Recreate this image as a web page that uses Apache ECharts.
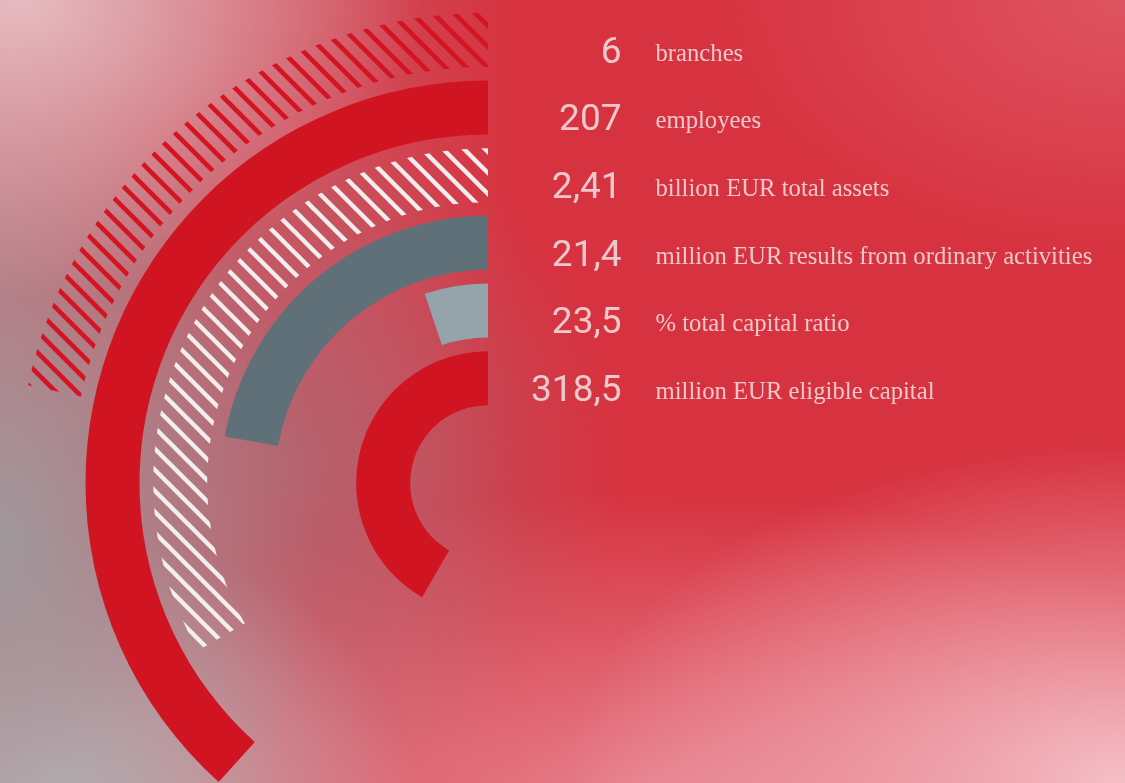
<!DOCTYPE html>
<html>
<head>
<meta charset="utf-8">
<script src="https://cdn.jsdelivr.net/npm/echarts@6/dist/echarts.min.js"></script>
<style>
html,body{margin:0;padding:0;}
body{width:1125px;height:783px;overflow:hidden;
background:
 radial-gradient(ellipse 400px 300px at 20px 0px, rgba(234,196,201,0.9), rgba(234,196,201,0) 100%),
 radial-gradient(ellipse 320px 460px at 0px 540px, rgba(160,152,156,1), rgba(160,152,156,0) 100%),
 radial-gradient(ellipse 350px 250px at 60px 783px, rgba(192,184,188,1), rgba(192,184,188,0) 100%),
 radial-gradient(ellipse 320px 330px at 300px 460px, rgba(176,102,114,0.8), rgba(176,102,114,0) 100%),
 radial-gradient(ellipse 560px 340px at 1125px 783px, rgba(245,192,200,1), rgba(245,192,200,0) 100%),
 radial-gradient(ellipse 650px 320px at 650px 810px, rgba(232,135,148,0.95), rgba(232,135,148,0) 100%),
 radial-gradient(ellipse 420px 260px at 1125px 0px, rgba(226,98,112,0.7), rgba(226,98,112,0) 100%),
 linear-gradient(90deg, #c46b76 0%, #cf4c59 30%, #d7323f 46%, #d7323f 100%);}
#chart{width:1125px;height:783px;}
</style>
</head>
<body>
<div id="chart"></div>
<script>
// ---- data ----
const categories = ['branches', 'employees', 'total assets', 'results from ordinary activities', 'total capital ratio', 'eligible capital'];
const valueLabels = ['6', '207', '2,41', '21,4', '23,5', '318,5'];
const unitLabels = ['branches', 'employees', 'billion EUR total assets', 'million EUR results from ordinary activities', '% total capital ratio', 'million EUR eligible capital'];
const arcDegrees = [78, 138, 120, 80, 18.5, 150];

// ---- styles ----
function hatch(color, period, width) {
  const s = Math.round(period * Math.SQRT2);
  const c = document.createElement('canvas');
  c.width = s; c.height = s;
  const g = c.getContext('2d');
  g.strokeStyle = color; g.lineWidth = width;
  g.beginPath();
  for (let k = -1; k <= 1; k++) {
    g.moveTo(k * s - width, -width);
    g.lineTo(k * s + s + width, s + width);
  }
  g.stroke();
  return { image: c, repeat: 'repeat' };
}
const fills = [
  hatch('#d41422', 15, 4.6),
  '#d01422',
  hatch('#f3eeee', 14.6, 4.4),
  '#607079',
  '#95a3ab',
  '#d01422'
];

const chart = echarts.init(document.getElementById('chart'), null, { renderer: 'canvas' });
chart.setOption({
  backgroundColor: 'transparent',
  animation: false,
  polar: { center: [488, 483], radius: [71, 477] },
  angleAxis: { type: 'value', min: 0, max: 360, startAngle: 90, clockwise: false, show: false },
  radiusAxis: { type: 'category', data: categories, inverse: true, show: false },
  series: [
    {
      type: 'bar', coordinateSystem: 'polar', barWidth: 54,
      data: arcDegrees.map((v, i) => ({ value: v, itemStyle: { color: fills[i] } }))
    },
    {
      type: 'scatter', coordinateSystem: 'polar', symbolSize: 1,
      itemStyle: { color: 'transparent' },
      label: {
        show: true, position: [0, 0], offset: [134, 14], align: 'right', verticalAlign: 'middle',
        formatter: p => valueLabels[p.dataIndex],
        fontFamily: 'Roboto', fontSize: 37, fontWeight: 400, color: '#f4eeee'
      },
      data: categories.map(c => [c, 0])
    },
    {
      type: 'scatter', coordinateSystem: 'polar', symbolSize: 1,
      itemStyle: { color: 'transparent' },
      label: {
        show: true, position: [0, 0], offset: [168, 15], align: 'left', verticalAlign: 'middle',
        formatter: p => unitLabels[p.dataIndex],
        fontFamily: 'Liberation Serif', fontSize: 24.7, color: '#f4eeee'
      },
      data: categories.map(c => [c, 0])
    }
  ]
});
</script>
</body>
</html>
